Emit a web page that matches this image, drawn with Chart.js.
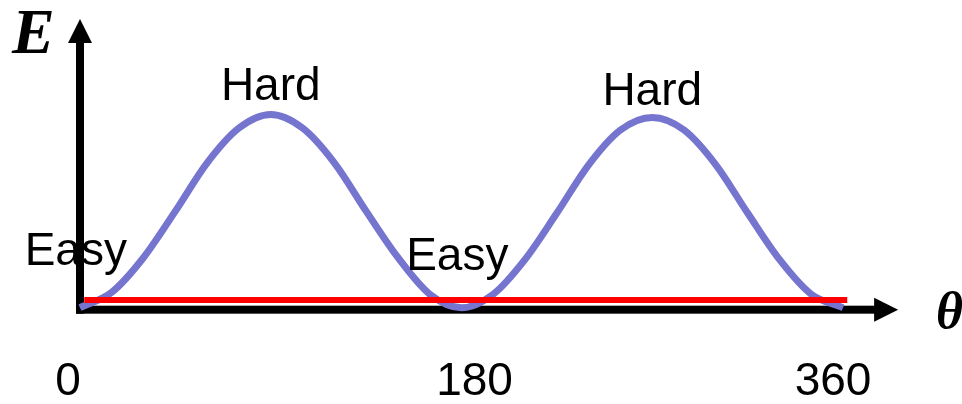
<!DOCTYPE html>
<html>
<head>
<meta charset="utf-8">
<script src="https://cdn.jsdelivr.net/npm/chart.js@4"></script>
<style>
  html, body { margin: 0; padding: 0; background: #fff; }
  #wrap { position: relative; width: 962px; height: 404px; }
</style>
</head>
<body>
<div id="wrap"><canvas id="chart" width="962" height="404"></canvas></div>
<script>
// angle in degrees, energy
const theta = [0, 15, 30, 45, 60, 75, 90, 105, 120, 135, 150, 165, 180,
               195, 210, 225, 240, 255, 270, 285, 300, 315, 330, 345, 360];
const energy = [0, 0.08, 0.26, 0.5, 0.75, 0.93, 1.0, 0.93, 0.75, 0.5, 0.26, 0.07, 0,
                0.07, 0.25, 0.49, 0.74, 0.92, 0.985, 0.92, 0.74, 0.49, 0.25, 0.07, 0];

// flat red reference line
const refX = [2, 362];
const refE = [0.04, 0.04];

// x tick labels
const tickVals = [0, 180, 360];
const tickText = ["0", "180", "360"];

// text labels on the curve
const noteText = ["Hard", "Hard", "Easy", "Easy"];
const noteX = [90, 270, -2, 178];
const noteE = [1.076, 1.05, 0.221, 0.195];

const curveData = theta.map((t, i) => ({ x: t, y: energy[i] }));
const refData = refX.map((t, i) => ({ x: t, y: refE[i] }));

// axes with arrows, drawn under the lines
const axesPlugin = {
    id: "axes",
    beforeDatasetsDraw(chart) {
        const { ctx, scales: { x, y } } = chart;
        const x0 = x.getPixelForValue(0);
        const yb = y.getPixelForValue(0) + 2;
        const yTop = y.getPixelForValue(1.5);
        const xEnd = x.getPixelForValue(386);
        ctx.save();
        ctx.fillStyle = "#000";
        // vertical axis
        ctx.fillRect(x0 - 4, yTop + 22, 8, yb + 4 - (yTop + 22));
        ctx.beginPath();
        ctx.moveTo(x0, yTop + 1);
        ctx.lineTo(x0 + 12, yTop + 25);
        ctx.lineTo(x0 - 12, yTop + 25);
        ctx.closePath();
        ctx.fill();
        // horizontal axis
        ctx.fillRect(x0 - 4, yb - 4, xEnd - 22 - (x0 - 4), 8);
        ctx.beginPath();
        ctx.moveTo(xEnd, yb);
        ctx.lineTo(xEnd - 24, yb - 12);
        ctx.lineTo(xEnd - 24, yb + 12);
        ctx.closePath();
        ctx.fill();
        ctx.restore();
    },
    afterDraw(chart) {
        const { ctx, scales: { x, y } } = chart;
        ctx.save();
        ctx.fillStyle = "#000";
        ctx.textAlign = "center";
        ctx.textBaseline = "alphabetic";
        ctx.font = "46px 'Liberation Sans', Arial, sans-serif";
        noteText.forEach((t, i) => {
            ctx.fillText(t, x.getPixelForValue(noteX[i]), y.getPixelForValue(noteE[i]));
        });
        // tick labels sit a bit off their ticks in the original
        const nudge = [-12, 13, -10];
        tickVals.forEach((v, i) => {
            ctx.fillText(tickText[i], x.getPixelForValue(v) + nudge[i], 395);
        });
        // axis names
        ctx.font = "bold italic 64px 'Liberation Serif', 'Times New Roman', serif";
        ctx.textAlign = "left";
        ctx.fillText("E", 12, 53);
        ctx.font = "bold italic 52px 'Liberation Serif', 'Times New Roman', serif";
        ctx.fillText("\u03B8", 936, 328);
        ctx.restore();
    }
};

new Chart(document.getElementById("chart").getContext("2d"), {
    type: "line",
    data: {
        datasets: [
            {
                data: refData,
                borderColor: "#ff0000",
                borderWidth: 6,
                borderCapStyle: "butt",
                pointRadius: 0,
                clip: false,
                order: 0
            },
            {
                data: curveData,
                borderColor: "#7575d0",
                borderWidth: 7,
                cubicInterpolationMode: "monotone",
                pointRadius: 0,
                clip: false,
                order: 1
            }
        ]
    },
    options: {
        responsive: false,
        animation: false,
        layout: { padding: { left: 80, right: 119, top: 18, bottom: 77 } },
        plugins: { legend: { display: false }, tooltip: { enabled: false } },
        scales: {
            x: { type: "linear", min: 0, max: 360, display: false },
            y: { min: -0.1, max: 1.5, display: false }
        }
    },
    plugins: [axesPlugin]
});
</script>
</body>
</html>
